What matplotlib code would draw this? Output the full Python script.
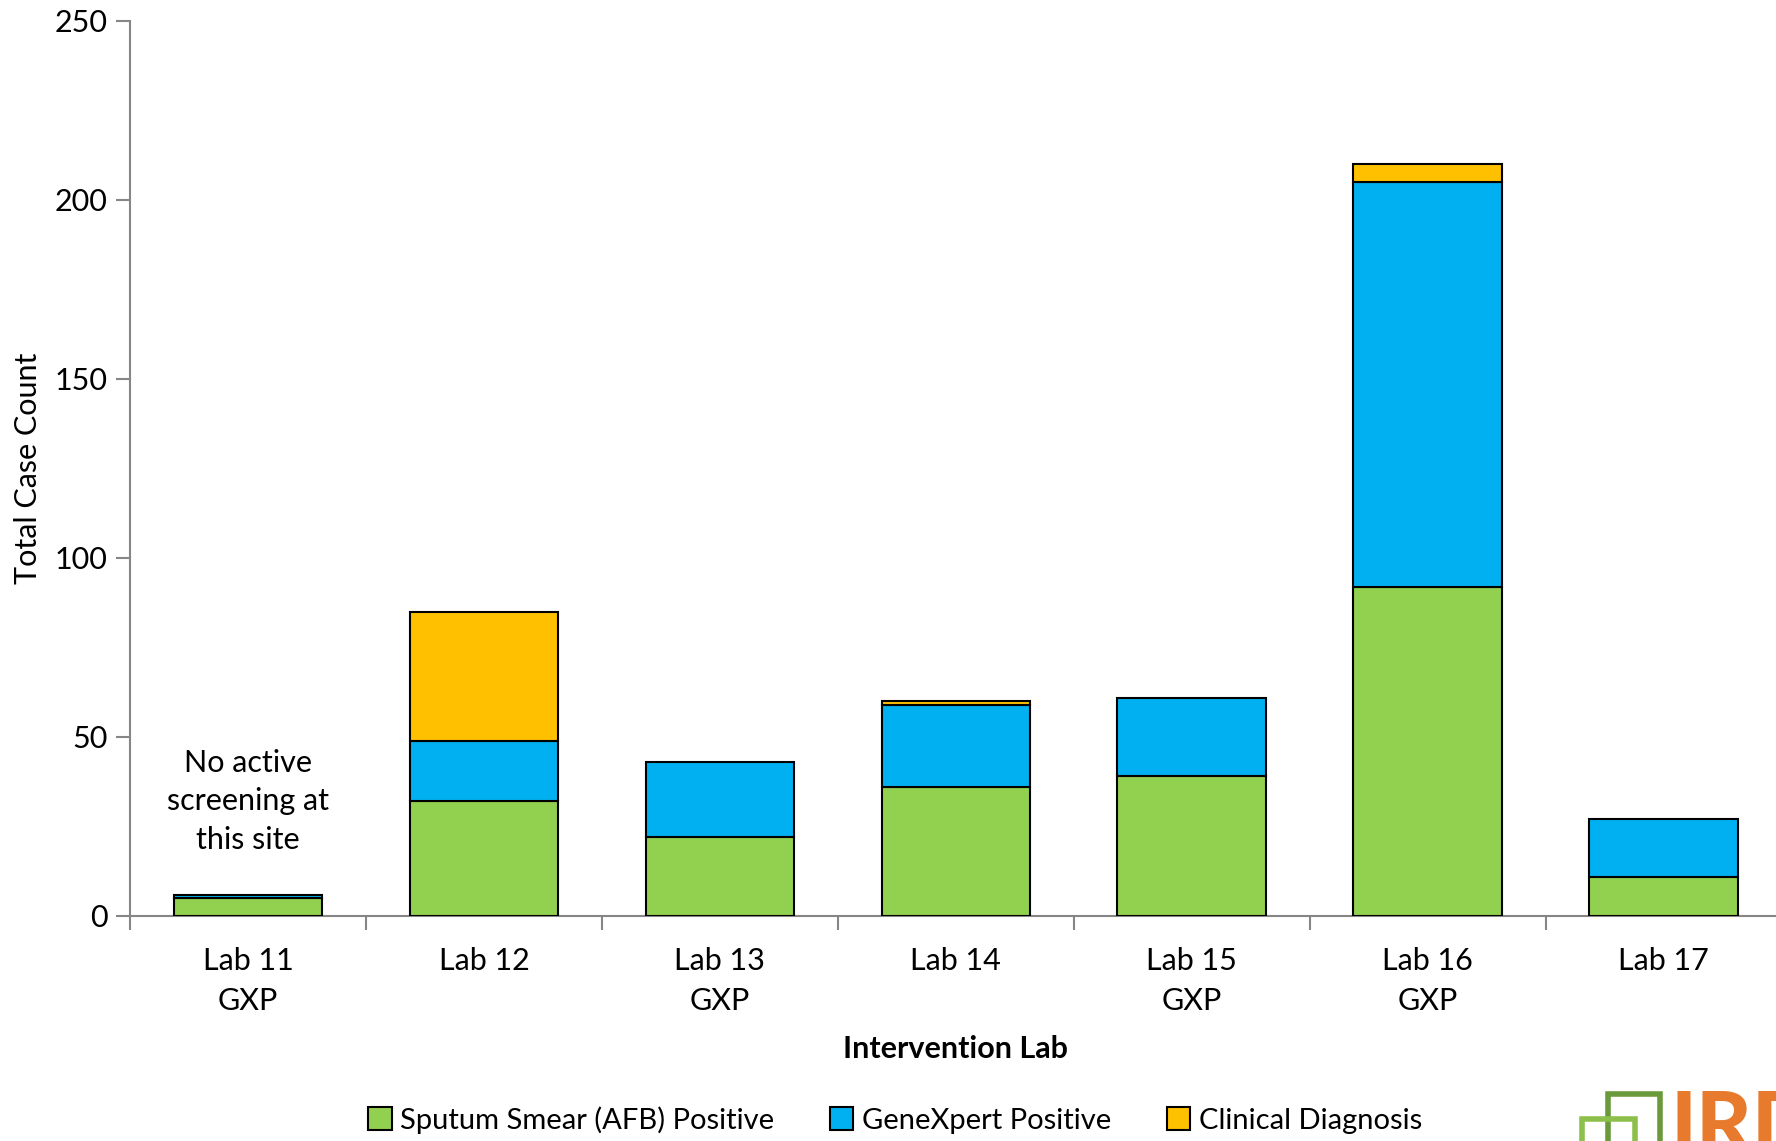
import matplotlib.pyplot as plt
from matplotlib.patches import Rectangle, Patch
import numpy as np

plt.rcParams['font.family'] = ['Lato', 'DejaVu Sans']

labs = ['Lab 11\nGXP', 'Lab 12', 'Lab 13\nGXP', 'Lab 14', 'Lab 15\nGXP', 'Lab 16\nGXP', 'Lab 17']
smear = [5, 32, 22, 36, 39, 92, 11]
genexpert = [1, 17, 21, 23, 22, 113, 16]
clinical = [0, 36, 0, 1, 0, 5, 0]

series_names = ['Sputum Smear (AFB) Positive', 'GeneXpert Positive', 'Clinical Diagnosis']
colors = ['#92D050', '#00B0F0', '#FFC000']

fig = plt.figure(figsize=(17.76, 11.41), dpi=100)
ax = fig.add_axes([0.0732, 0.1972, 0.93, 0.7844])

x = np.arange(len(labs))
bottom = np.zeros(len(labs))
for vals, col in zip([smear, genexpert, clinical], colors):
    vals = np.array(vals, dtype=float)
    mask = vals > 0
    ax.bar(x[mask], vals[mask], width=0.63, bottom=bottom[mask], color=col,
           edgecolor='black', linewidth=1.5, zorder=3)
    bottom += vals

ax.set_xlim(-0.5, 6.5)
ax.set_ylim(0, 250)
ax.set_yticks([0, 50, 100, 150, 200, 250])

# category boundary ticks like Excel
ax.set_xticks(x)
ax.set_xticklabels(labs, fontsize=22, linespacing=1.55)
ax.set_xticks(np.arange(-0.5, 7.0, 1.0), minor=True)
ax.tick_params(axis='x', which='major', length=0, pad=22)
ax.tick_params(axis='x', which='minor', length=10, color='#868686', width=1.5)
ax.tick_params(axis='y', length=10, color='#868686', width=1.5, labelsize=22, pad=6)

for s in ['top', 'right']:
    ax.spines[s].set_visible(False)
for s in ['left', 'bottom']:
    ax.spines[s].set_color('#868686')
    ax.spines[s].set_linewidth(1.5)

ax.set_ylabel('Total Case Count', fontsize=22, labelpad=9)
ax.set_xlabel('Intervention Lab', fontsize=22, fontweight='bold', labelpad=14)

ax.text(0, 32, 'No active\nscreening at\nthis site', ha='center', va='center',
        fontsize=22, linespacing=1.45)

handles = [Patch(facecolor=c, edgecolor='black', linewidth=1.5) for c in colors]
fig.legend(handles, series_names, loc='center', bbox_to_anchor=(0.504, 0.0185),
           ncol=3, frameon=False, fontsize=21, handlelength=0.8, handleheight=0.8,
           handletextpad=0.3, columnspacing=1.9)

# logo in the bottom right corner, partly cut off
W, H = 1776, 1141
def fx(px):
    return px / W
def fy(py):
    return 1 - py / H
fig.patches.append(Rectangle((fx(1608), fy(1160)), fx(1660) - fx(1608), fy(1094) - fy(1160),
                             transform=fig.transFigure, fill=False, edgecolor='#6A9A3A', linewidth=4))
fig.patches.append(Rectangle((fx(1582), fy(1160)), fx(1635) - fx(1582), fy(1119) - fy(1160),
                             transform=fig.transFigure, fill=False, edgecolor='#8DC04A', linewidth=4))
fig.text(fx(1670), fy(1089), 'IRD', color='#E87A2D', fontsize=62, fontweight='black',
         ha='left', va='top')

fig.savefig('out.png', dpi=100)
